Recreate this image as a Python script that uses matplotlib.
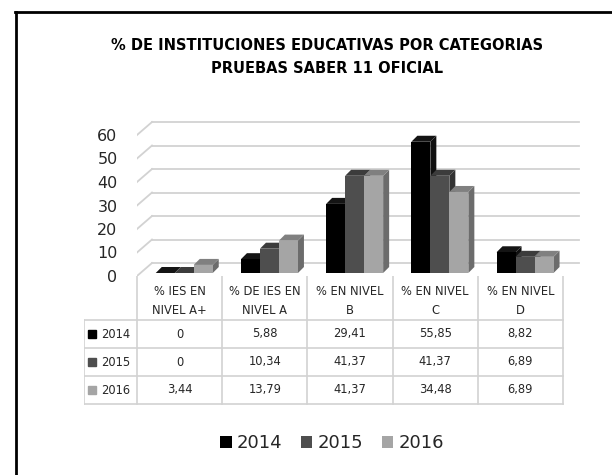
import numpy as np
import matplotlib
matplotlib.use("Agg")
import matplotlib.pyplot as plt
from matplotlib.patches import Polygon, Rectangle, Patch
from matplotlib.lines import Line2D

plt.rcParams['font.family'] = ['DejaVu Sans']

categories = ["% IES EN\nNIVEL A+", "% DE IES EN\nNIVEL A", "% EN NIVEL\nB",
              "% EN NIVEL\nC", "% EN NIVEL\nD"]
years = ["2014", "2015", "2016"]
v2014 = [0, 5.88, 29.41, 55.85, 8.82]
v2015 = [0, 10.34, 41.37, 41.37, 6.89]
v2016 = [3.44, 13.79, 41.37, 34.48, 6.89]
series = [v2014, v2015, v2016]
yticks = [0, 10, 20, 30, 40, 50, 60]

front_col = ['#000000', '#4e4e4e', '#a5a5a5']
top_col = ['#141414', '#3c3c3c', '#808080']
side_col = ['#101010', '#333333', '#6c6c6c']
grid_col = '#d2d2d2'

W, H = 612, 475
fig = plt.figure(figsize=(W / 100, H / 100), dpi=100)

def box(x0, y0, x1, y1):
    # pixel box (top-left origin) -> figure fraction rect
    return [x0 / W, 1 - y1 / H, (x1 - x0) / W, (y1 - y0) / H]

# geometry of the pseudo 3d chart (pixels)
cat_px = 85.2      # width of one category
unit_px = 2.35     # pixels per percentage point
left_px, right_px = 137, 582
floor_px, top_px = 276, 116

ax = fig.add_axes(box(left_px, top_px, right_px, floor_px))
ax.set_xlim(0, (right_px - left_px) / cat_px)
ax.set_ylim(0, (floor_px - top_px) / unit_px)

wall_dx, wall_dy = 15 / cat_px, 13 / unit_px    # back wall offset
bar_dy = 3 / unit_px                             # bar baseline above floor front
dep_dx, dep_dy = 6 / cat_px, 6 / unit_px         # bar depth
bar_w = 0.223
bar_off = 0.22
grid_end = (579 - left_px) / cat_px

for v in yticks:
    ax.plot([wall_dx, grid_end], [v + wall_dy, v + wall_dy], color=grid_col, lw=1.3, zorder=1)
    ax.plot([0, wall_dx], [v, v + wall_dy], color=grid_col, lw=1.3, zorder=1)

for i, vals in enumerate(series):
    for j, h in enumerate(vals):
        x0 = j + bar_off + i * bar_w
        y0 = bar_dy
        z = 2 + i
        ax.add_patch(Polygon([(x0 + bar_w, y0), (x0 + bar_w + dep_dx, y0 + dep_dy),
                              (x0 + bar_w + dep_dx, y0 + h + dep_dy), (x0 + bar_w, y0 + h)],
                             closed=True, fc=side_col[i], ec='none', zorder=z))
        ax.add_patch(Polygon([(x0, y0 + h), (x0 + bar_w, y0 + h),
                              (x0 + bar_w + dep_dx, y0 + h + dep_dy), (x0 + dep_dx, y0 + h + dep_dy)],
                             closed=True, fc=top_col[i], ec='none', zorder=z))
        ax.add_patch(Rectangle((x0, y0), bar_w, h, fc=front_col[i], ec='none', zorder=z))

ax.set_yticks(yticks)
ax.set_yticklabels([str(t) for t in yticks], fontsize=11.5, color='#262626')
ax.tick_params(axis='y', length=0, pad=14)
ax.set_xticks([])
for s in ax.spines.values():
    s.set_visible(False)
ax.patch.set_alpha(0)

# data table below the floor
tab_left = 84
tab = fig.add_axes(box(tab_left, floor_px, right_px, floor_px + 131))
tab.set_xlim((tab_left - left_px) / cat_px, (right_px - left_px) / cat_px)
tab.set_ylim(131, 0)
tab.axis('off')
lab_x = (tab_left - left_px) / cat_px
rows = [0, 44, 72, 100, 128]
n = len(categories)
for k in range(n + 1):
    tab.plot([k, k], [0, rows[-1]], color=grid_col, lw=1.2)
tab.plot([lab_x, lab_x], [rows[1], rows[-1]], color=grid_col, lw=1.2)
for r in rows[1:]:
    tab.plot([lab_x, n], [r, r], color=grid_col, lw=1.2)
for j, c in enumerate(categories):
    tab.text(j + 0.5, rows[1] / 2 + 3, c, ha='center', va='center', fontsize=8.3,
             linespacing=1.6, color='#262626')
for i, vals in enumerate(series):
    yc = (rows[i + 1] + rows[i + 2]) / 2
    tab.plot([lab_x + 0.095], [yc], marker='s', ms=5.5, color=front_col[i], ls='none')
    tab.text(lab_x + 0.2, yc, years[i], ha='left', va='center', fontsize=8.3, color='#262626')
    for j, v in enumerate(vals):
        s = '0' if v == 0 else f'{v:.2f}'.replace('.', ',')
        tab.text(j + 0.5, yc, s, ha='center', va='center', fontsize=8.3, color='#262626')

# legend
handles = [Patch(fc=front_col[i], ec='none') for i in range(3)]
fig.legend(handles, years, loc='center', bbox_to_anchor=(332 / W, 1 - 443 / H), ncol=3,
           frameon=False, fontsize=13, handlelength=0.65, handleheight=0.65,
           handletextpad=0.3, columnspacing=1.0, labelcolor='#262626')

# title
fig.text(327 / W, 1 - 57 / H,
         "% DE INSTITUCIONES EDUCATIVAS POR CATEGORIAS\nPRUEBAS SABER 11 OFICIAL",
         ha='center', va='center', fontsize=10.5, fontweight='bold', linespacing=1.7)

# outer frame (left and top edges only)
fig.add_artist(Line2D([15.5 / W, 15.5 / W], [0, 1 - 12 / H], color='black', lw=2,
                      transform=fig.transFigure))
fig.add_artist(Line2D([14.5 / W, 1], [1 - 12 / H, 1 - 12 / H], color='black', lw=2,
                      transform=fig.transFigure))

fig.savefig('out.png', dpi=100)
